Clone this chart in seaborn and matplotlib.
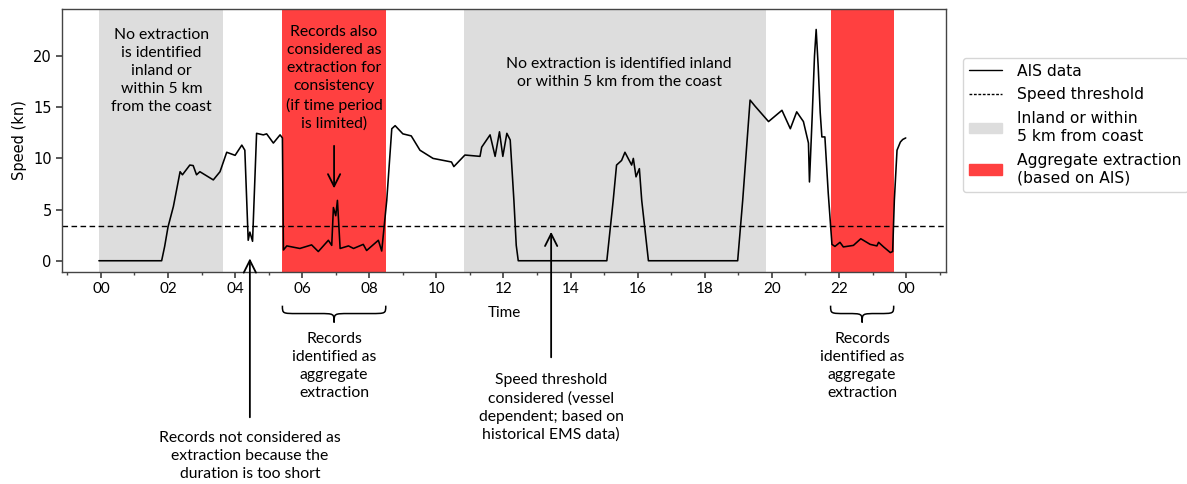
import matplotlib
matplotlib.use("Agg")
import matplotlib.pyplot as plt
import seaborn as sns
import pandas as pd
from matplotlib.path import Path
from matplotlib.patches import PathPatch, Patch
from matplotlib.lines import Line2D
import matplotlib.transforms as mtransforms

# horas desde medianoche y velocidad (nudos)
hours = [-0.06, 1.81, 1.9, 2.0, 2.16, 2.36, 2.43, 2.65, 2.75, 2.85, 2.95, 3.15, 3.35, 3.55,
         3.75, 4.0, 4.2, 4.29, 4.39, 4.44, 4.52, 4.64, 4.84, 4.94, 5.14, 5.34, 5.41,
         5.44, 5.54, 5.93, 6.28, 6.48, 6.78, 6.88, 6.93, 7.0, 7.05, 7.13, 7.38, 7.53,
         7.82, 7.92, 8.27, 8.37, 8.52, 8.67, 8.77, 9.0, 9.25, 9.51, 9.9, 10.45, 10.52,
         10.85, 11.3, 11.35, 11.6, 11.75, 11.88, 11.98, 12.1, 12.2, 12.31, 12.38, 12.44,
         15.08, 15.27, 15.37, 15.52, 15.62, 15.82, 15.87, 15.95, 16.05, 16.12, 16.32,
         18.98, 19.13, 19.35, 19.5, 19.9, 20.3, 20.55, 20.74, 20.94, 21.09, 21.12, 21.2,
         21.27, 21.32, 21.38, 21.44, 21.49, 21.58, 21.68, 21.79, 21.88, 22.03, 22.13,
         22.43, 22.65, 22.93, 23.13, 23.18, 23.33, 23.53, 23.6, 23.65, 23.73, 23.83,
         23.9, 23.99]
speed = [0.0, 0.0, 1.4, 3.3, 5.3, 8.7, 8.4, 9.35, 9.3, 8.4, 8.7, 8.3, 7.9, 8.7,
         10.6, 10.3, 11.3, 10.8, 2.0, 2.8, 1.9, 12.45, 12.3, 12.4, 11.5, 12.3, 12.0,
         1.05, 1.45, 1.2, 1.55, 0.9, 2.0, 1.5, 5.2, 4.4, 5.9, 1.2, 1.45, 1.2,
         1.6, 1.0, 2.0, 0.95, 5.9, 12.9, 13.2, 12.4, 12.2, 10.8, 10.0, 9.65, 9.2,
         10.33, 10.2, 11.1, 12.3, 10.2, 12.6, 10.2, 12.45, 11.8, 5.9, 1.5, 0.0,
         0.0, 5.9, 9.35, 9.8, 10.6, 9.35, 10.0, 8.2, 9.0, 5.9, 0.0,
         0.0, 5.9, 15.7, 15.1, 13.6, 14.7, 12.9, 14.55, 13.6, 11.5, 7.7, 14.0,
         20.0, 22.6, 19.0, 14.5, 12.1, 12.1, 6.6, 1.6, 1.4, 1.8, 1.35,
         1.5, 2.15, 1.6, 1.45, 1.8, 1.35, 0.8, 0.9, 5.9, 10.8, 11.6,
         11.85, 12.0]
threshold = 3.4

inland_spans = [(-0.06, 3.63), (10.82, 19.83)]
extraction_spans = [(5.41, 8.49), (21.75, 23.63)]

gris = "#dddddd"
rojo = "#ff4040"

sns.set_theme(style="ticks")
plt.rcParams["font.family"] = ["DejaVu Sans"]
plt.rcParams.update({"text.color": "black", "axes.labelcolor": "black",
                     "xtick.labelcolor": "black", "ytick.labelcolor": "black"})

fig = plt.figure(figsize=(11.87, 4.84), dpi=100)
ax = fig.add_axes([62 / 1187, 1 - 272 / 484, 884 / 1187, 263 / 484])

for a, b in inland_spans:
    ax.axvspan(a, b, color=gris, lw=0, zorder=0)
for a, b in extraction_spans:
    ax.axvspan(a, b, color=rojo, lw=0, zorder=0)

df = pd.DataFrame({"hora": hours, "velocidad": speed})
sns.lineplot(data=df, x="hora", y="velocidad", ax=ax, color="black", lw=1.15,
             sort=False, zorder=3)
ax.axhline(threshold, color="black", ls="--", lw=1.0, dashes=(4, 2.5), zorder=2)

ax.set_xlim(-1.16, 25.19)
ax.set_ylim(-1.1, 24.6)
ax.set_xticks(range(0, 25, 2))
ax.set_xticklabels([f"{h % 24:02d}" for h in range(0, 25, 2)], family="Lato", fontsize=11)
ax.set_xticks(range(-1, 26), minor=True)
ax.set_yticks([0, 5, 10, 15, 20])
ax.tick_params(axis="y", labelsize=10.5, length=4, color="#444444")
ax.tick_params(axis="x", which="major", length=4, color="#444444")
ax.tick_params(axis="x", which="minor", length=2, color="#444444")
for sp in ax.spines.values():
    sp.set_color("#444444")
    sp.set_linewidth(1.0)
ax.set_xlabel("Time", family="Lato", fontsize=11, labelpad=7)
ax.set_ylabel("Speed (kn)", fontsize=10.5)

txt = dict(family="Lato", fontsize=11.3, ha="center", va="top", linespacing=1.36)
ax.text(1.81, 22.7, "No extraction\nis identified\ninland or\nwithin 5 km\nfrom the coast", **txt)
ax.text(6.95, 23.0, "Records also\nconsidered as\nextraction for\nconsistency\n(if time period\nis limited)", **txt)
ax.text(15.45, 19.9, "No extraction is identified inland\nor within 5 km from the coast", **txt)

flecha = dict(arrowstyle="->", lw=1.3, color="black", mutation_scale=22)
ax.annotate("", xy=(6.95, 6.8), xytext=(6.95, 11.5), arrowprops=flecha)

trans = mtransforms.blended_transform_factory(ax.transData, ax.transAxes)
ax.annotate("", xy=(4.44, 0.5), xycoords="data", xytext=(4.44, -0.563),
            textcoords=trans, arrowprops=flecha, annotation_clip=False)
ax.text(4.44, -0.605, "Records not considered as\nextraction because the\nduration is too short",
        transform=trans, **txt)
ax.annotate("", xy=(13.42, 3.1), xycoords="data", xytext=(13.42, -0.335),
            textcoords=trans, arrowprops=flecha, annotation_clip=False)
ax.text(13.42, -0.385, "Speed threshold\nconsidered (vessel\ndependent; based on\nhistorical EMS data)",
        transform=trans, **txt)


def llave(x0, x1, ytop=-0.128, ymid=-0.158, ybot=-0.192, r=0.45):
    xm = (x0 + x1) / 2
    verts = [(x0, ytop), (x0, ymid), (x0, ymid), (x0 + r, ymid),
             (xm - r, ymid),
             (xm, ymid), (xm, ymid), (xm, ybot),
             (xm, ymid), (xm, ymid), (xm + r, ymid),
             (x1 - r, ymid),
             (x1, ymid), (x1, ymid), (x1, ytop)]
    codes = [Path.MOVETO, Path.CURVE4, Path.CURVE4, Path.CURVE4,
             Path.LINETO,
             Path.CURVE4, Path.CURVE4, Path.CURVE4,
             Path.CURVE4, Path.CURVE4, Path.CURVE4,
             Path.LINETO,
             Path.CURVE4, Path.CURVE4, Path.CURVE4]
    ax.add_patch(PathPatch(Path(verts, codes), transform=trans, fc="none", ec="black",
                           lw=1.1, clip_on=False))


for a, b in extraction_spans:
    llave(a, b)
    ax.text((a + b) / 2, -0.228, "Records\nidentified as\naggregate\nextraction",
            transform=trans, **txt)

handles = [Line2D([], [], color="black", lw=1.0),
           Line2D([], [], color="black", ls="--", lw=1.0, dashes=(2, 1.2)),
           Patch(color=gris), Patch(color=rojo)]
labels = ["AIS data", "Speed threshold", "Inland or within\n5 km from coast",
          "Aggregate extraction\n(based on AIS)"]
leg = ax.legend(handles, labels, loc="upper left", bbox_to_anchor=(1.019, 0.815),
                fontsize=11.2, frameon=True, handlelength=2.1, handletextpad=1.0,
                borderaxespad=0, labelspacing=0.55, fancybox=True, edgecolor="#cccccc")
for t in leg.get_texts():
    t.set_linespacing(1.25)

fig.savefig("out.png", dpi=100)
